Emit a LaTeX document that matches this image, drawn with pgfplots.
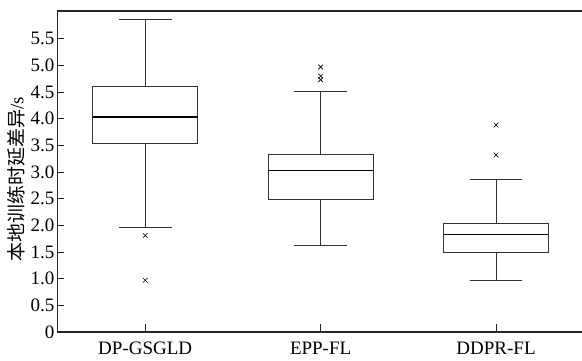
\documentclass[border=0pt]{standalone}
\usepackage{pgfplots}
\pgfplotsset{compat=1.18}
\usepgfplotslibrary{statistics}
\usepackage{fontspec}
\setmainfont{Liberation Serif}
\newfontfamily\cjk{Noto Sans CJK SC}

\begin{document}
\begin{tikzpicture}
\begin{axis}[
  name=ax,
  scale only axis,
  width=524.5pt, height=321pt,
  xmin=0.5, xmax=3.49,
  ymin=0, ymax=6.02,
  axis lines*=left,
  axis line style={-, line width=1.2pt, black!85},
  tick align=inside,
  major tick length=6pt,
  tick style={line width=0.8pt, black!85},
  xtick style={/pgfplots/major tick length=8pt},
  /pgf/number format/assume math mode=true,
  xtick={1,2,3},
  xticklabels={DP-GSGLD,EPP-FL,DDPR-FL},
  ytick={0,0.5,...,5.5},
  yticklabels={0,0.5,1.0,1.5,2.0,2.5,3.0,3.5,4.0,4.5,5.0,5.5},
  ticklabel style={font=\fontsize{19}{21}\selectfont},
  yticklabel style={inner sep=1pt, xshift=-2pt},
  xticklabel style={inner sep=0pt, yshift=-10pt},
  ylabel={{\cjk 本地训练时延差异}/s},
  every axis y label/.style={at={(axis description cs:-0.079,0.476)}, anchor=center, rotate=90, font=\fontsize{19}{21}\selectfont},
  boxplot/draw direction=y,
  boxplot/box extend=0.6,
  boxplot/whisker extend=0.3,
  boxplot/every box/.style={draw=black!80, line width=0.8pt},
  boxplot/every whisker/.style={draw=black!80, line width=0.8pt},
  boxplot/every median/.style={draw=black, line width=1.4pt},
  clip=false,
]
% DP-GSGLD
\addplot+[black, mark=x, mark size=3.3pt, mark options={line width=0.6pt},
  boxplot prepared={draw position=1, lower whisker=1.97, lower quartile=3.535,
    median=4.035, upper quartile=4.60, upper whisker=5.86}]
  table[row sep=\\, y index=0] {1.81\\ 0.97\\};
% EPP-FL
\addplot+[black, mark=x, mark size=3.3pt, mark options={line width=0.6pt},
  boxplot prepared={draw position=2, lower whisker=1.63, lower quartile=2.49,
    median=3.03, upper quartile=3.335, upper whisker=4.52}]
  table[row sep=\\, y index=0] {4.97\\ 4.80\\ 4.73\\};
% DDPR-FL
\addplot+[black, mark=x, mark size=3.3pt, mark options={line width=0.6pt},
  boxplot prepared={draw position=3, lower whisker=0.96, lower quartile=1.495,
    median=1.833, upper quartile=2.045, upper whisker=2.865}]
  table[row sep=\\, y index=0] {3.88\\ 3.32\\};
% top frame line
\draw[line width=1.2pt, black!85] (rel axis cs:0,1) -- (rel axis cs:1,1);
\end{axis}
\pgfresetboundingbox
\path[use as bounding box] ([shift={(-57.5pt,-29pt)}]ax.south west) rectangle ([shift={(0pt,11pt)}]ax.north east);
\end{tikzpicture}
\end{document}
